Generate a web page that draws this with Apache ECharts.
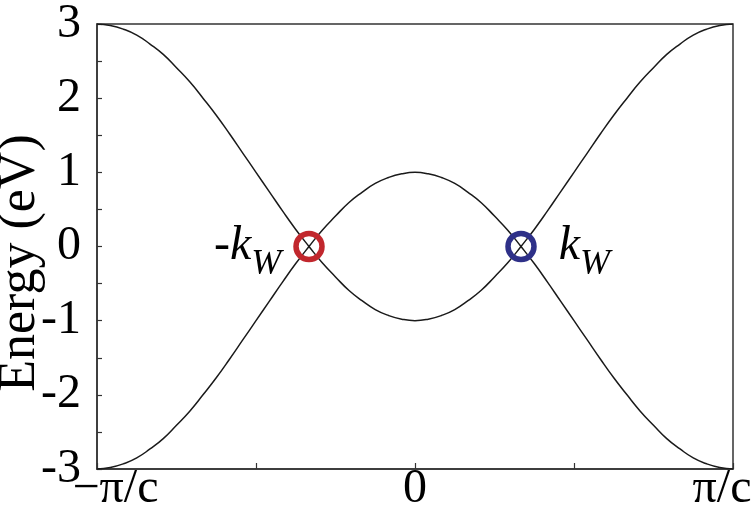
<!DOCTYPE html>
<html>
<head>
<meta charset="utf-8">
<script src="https://cdn.jsdelivr.net/npm/echarts@6/dist/echarts.min.js"></script>
<style>
  html, body { margin: 0; padding: 0; background: #fff; }
  #grafico { width: 754px; height: 509px; }
</style>
</head>
<body>
<div id="grafico"></div>
<script>
// k en unidades de pi/(24c)
const pasosK = [-24, -23, -22, -21, -20, -19, -18, -17, -16, -15, -14, -13, -12, -11, -10, -9, -8, -7, -6, -5, -4, -3, -2, -1, 0,
    1, 2, 3, 4, 5, 6, 7, 8, 9, 10, 11, 12, 13, 14, 15, 16, 17, 18, 19, 20, 21, 22, 23, 24];
const bandaSuperior = [3, 2.98, 2.93, 2.85, 2.73, 2.59, 2.41, 2.22, 2, 1.77, 1.52, 1.26, 1, 0.74, 0.48, 0.23, 0, -0.22, -0.41, -0.59, -0.73, -0.85, -0.93, -0.98, -1,
    -0.98, -0.93, -0.85, -0.73, -0.59, -0.41, -0.22, 0, 0.23, 0.48, 0.74, 1, 1.26, 1.52, 1.77, 2, 2.22, 2.41, 2.59, 2.73, 2.85, 2.93, 2.98, 3];
const bandaInferior = [-3, -2.98, -2.93, -2.85, -2.73, -2.59, -2.41, -2.22, -2, -1.77, -1.52, -1.26, -1, -0.74, -0.48, -0.23, 0, 0.22, 0.41, 0.59, 0.73, 0.85, 0.93, 0.98, 1,
    0.98, 0.93, 0.85, 0.73, 0.59, 0.41, 0.22, 0, -0.23, -0.48, -0.74, -1, -1.26, -1.52, -1.77, -2, -2.22, -2.41, -2.59, -2.73, -2.85, -2.93, -2.98, -3];
const puntosWeyl = [[-8, 0], [8, 0]];
const etiquetasX = { "-24": "−π/c", "0": "0", "24": "π/c" };

const fuente = "Liberation Serif";
const colorEje = "#333";

function pares(xs, ys) {
    return xs.map(function (x, i) { return [x, ys[i]]; });
}

const grafico = echarts.init(document.getElementById("grafico"));
grafico.setOption({
    animation: false,
    grid: {
        left: 97, right: 21, top: 24, bottom: 40,
        outerBoundsMode: "none",
        show: true, borderColor: colorEje, borderWidth: 1.5
    },
    xAxis: {
        type: "value",
        min: -24, max: 24, interval: 12,
        axisLine: { onZero: false, lineStyle: { color: colorEje, width: 1.5 } },
        axisTick: { inside: true, length: 6, lineStyle: { color: colorEje, width: 1.2 } },
        splitLine: { show: false },
        axisLabel: {
            margin: -4,
            color: "#000",
            fontFamily: fuente,
            fontSize: 48,
            formatter: function (v) {
                if (v === -24) return "{a|" + etiquetasX["-24"] + "}";
                if (v === 24) return "{b|" + etiquetasX["24"] + "}";
                return etiquetasX[String(v)] || "";
            },
            rich: {
                a: { fontFamily: fuente, fontSize: 48, color: "#000", padding: [0, 0, 0, 37] },
                b: { fontFamily: fuente, fontSize: 48, color: "#000", padding: [0, 22, 0, 0] }
            }
        }
    },
    yAxis: {
        type: "value",
        min: -3, max: 3, interval: 1,
        name: "Energy (eV)",
        nameLocation: "middle",
        nameGap: 51,
        nameMoveOverlap: false,
        nameTextStyle: { fontFamily: fuente, fontSize: 52, color: "#000", padding: [0, 33, 0, 0] },
        axisLine: { onZero: false, lineStyle: { color: colorEje, width: 1.5 } },
        axisTick: { inside: true, length: 5, lineStyle: { color: colorEje, width: 1.2 } },
        minorTick: { show: true, splitNumber: 2, length: 5, lineStyle: { color: colorEje, width: 1.2 } },
        splitLine: { show: false },
        axisLabel: {
            margin: 16,
            color: "#000",
            fontFamily: fuente,
            fontSize: 48,
            padding: [0, 0, 12, 0],
            formatter: function (v) { return v < 0 ? "-" + Math.abs(v) : String(v); }
        }
    },
    series: [
        {
            type: "line", data: pares(pasosK, bandaSuperior), smooth: true,
            showSymbol: false, lineStyle: { color: "#1a1a1a", width: 1.5 }
        },
        {
            type: "line", data: pares(pasosK, bandaInferior), smooth: true,
            showSymbol: false, lineStyle: { color: "#1a1a1a", width: 1.5 }
        },
        {
            type: "scatter",
            symbol: "circle",
            symbolSize: 26,
            z: 5,
            data: [
                {
                    value: puntosWeyl[0],
                    itemStyle: { color: "rgba(0,0,0,0)", borderColor: "#C1272D", borderWidth: 5.5, opacity: 1 },
                    label: { show: true, position: "left", distance: 12, formatter: "{k|-k}{w|W}" }
                },
                {
                    value: puntosWeyl[1],
                    itemStyle: { color: "rgba(0,0,0,0)", borderColor: "#2E3088", borderWidth: 5.5, opacity: 1 },
                    label: { show: true, position: "right", distance: 22, formatter: "{k|k}{w|W}" }
                }
            ],
            label: {
                fontFamily: fuente,
                fontStyle: "italic",
                color: "#000",
                opacity: 1,
                rich: {
                    k: { fontFamily: fuente, fontStyle: "italic", fontSize: 48, lineHeight: 48, color: "#000" },
                    w: { fontFamily: fuente, fontStyle: "italic", fontSize: 36, lineHeight: 36, color: "#000", padding: [36, 0, 0, 0] }
                }
            }
        }
    ]
});
</script>
</body>
</html>
